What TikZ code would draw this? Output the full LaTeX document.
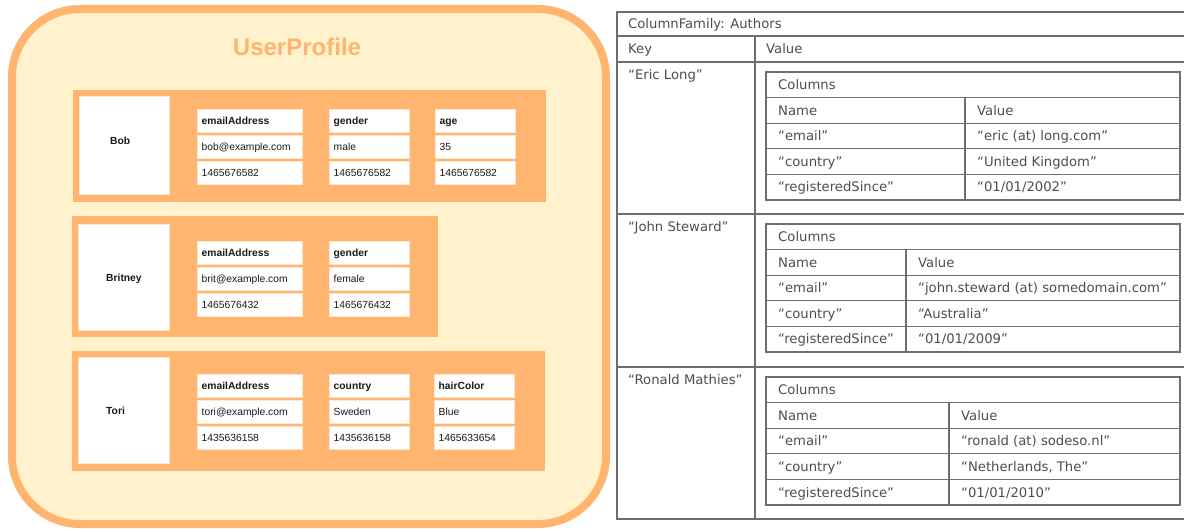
\documentclass[tikz,border=0pt]{standalone}
\usepackage{fontspec}
\setmainfont{Liberation Sans}
\newfontfamily\tblfont{DejaVu Sans}

\definecolor{profilefill}{HTML}{FFF2CC}
\definecolor{profileline}{HTML}{FFB570}
\definecolor{rowfill}{HTML}{FFB570}
\definecolor{celledge}{HTML}{FFE6CC}
\definecolor{celltext}{HTML}{1A1A1A}
\definecolor{gridline}{HTML}{6E6E6E}
\definecolor{gridtext}{HTML}{4D4D4D}

% one white cell of a column family row: box plus left-aligned text
\newcommand\pcell[7]{%
  \pgfmathsetmacro\gw{#4-#2}\pgfmathsetmacro\gh{#5-#3}%
  \pgfmathsetmacro\tx{#2+4.5}\pgfmathsetmacro\ty{(#3+#5)/2+3.7}%
  \node[cellbox, minimum width=\gw pt, minimum height=\gh pt] (#1) at ({(#2+#4)/2},{(#3+#5)/2}) {};
  \node[#6, anchor=base west] (#1-t) at (\tx,\ty) {#7};}

% a column: name cell, value cell, timestamp cell
\newcommand\pcolumn[7]{%
  \pgfmathsetmacro\ya{#4+23}\pgfmathsetmacro\yb{#4+26}\pgfmathsetmacro\yc{#4+49}%
  \pgfmathsetmacro\yd{#4+52}\pgfmathsetmacro\ye{#4+75}%
  \pcell{#1-h}{#2}{#4}{#3}{\ya}{headtext}{#5}%
  \pcell{#1-v}{#2}{\yb}{#3}{\yc}{valtext}{#6}%
  \pcell{#1-s}{#2}{\yd}{#3}{\ye}{valtext}{#7}}

% a ruled table cell (no text)
\newcommand\gridcell[5]{%
  \pgfmathsetmacro\gw{#4-#2}\pgfmathsetmacro\gh{#5-#3}%
  \node[gridbox, minimum width=\gw pt, minimum height=\gh pt] (#1) at ({(#2+#4)/2},{(#3+#5)/2}) {};}

% the nested Columns table of one row key
\newcommand\innertable[6]{%
  \pgfmathsetmacro\ra{#2+25.6}\pgfmathsetmacro\rb{#2+51.2}\pgfmathsetmacro\rc{#2+76.8}%
  \pgfmathsetmacro\rd{#2+102.4}\pgfmathsetmacro\re{#2+128}%
  \pgfmathsetmacro\vx{#3+12}%
  \gridcell{#1-cols}{766}{#2}{1180}{\ra}%
  \gridcell{#1-n1}{766}{\ra}{#3}{\rb}\gridcell{#1-v1}{#3}{\ra}{1180}{\rb}%
  \gridcell{#1-n2}{766}{\rb}{#3}{\rc}\gridcell{#1-v2}{#3}{\rb}{1180}{\rc}%
  \gridcell{#1-n3}{766}{\rc}{#3}{\rd}\gridcell{#1-v3}{#3}{\rc}{1180}{\rd}%
  \gridcell{#1-n4}{766}{\rd}{#3}{\re}\gridcell{#1-v4}{#3}{\rd}{1180}{\re}%
  \node[gridlabel] (#1-cols-t) at (778,{#2+12.8+4.8}) {Columns};
  \node[gridlabel] (#1-n1-t) at (778,{#2+38.4+4.8}) {Name};
  \node[gridlabel] (#1-v1-t) at (\vx,{#2+38.4+4.8}) {Value};
  \node[gridlabel] (#1-n2-t) at (778,{#2+64+4.8}) {“email”};
  \node[gridlabel] (#1-v2-t) at (\vx,{#2+64+4.8}) {#4};
  \node[gridlabel] (#1-n3-t) at (778,{#2+89.6+4.8}) {“country”};
  \node[gridlabel] (#1-v3-t) at (\vx,{#2+89.6+4.8}) {#5};
  \node[gridlabel] (#1-n4-t) at (778,{#2+115.2+4.8}) {“registeredSince”};
  \node[gridlabel] (#1-v4-t) at (\vx,{#2+115.2+4.8}) {#6};}

\begin{document}
\begin{tikzpicture}[x=1pt, y=-1pt,
  profile/.style={draw=profileline, fill=profilefill, line width=8pt, rounded corners=68pt},
  rowbox/.style={fill=rowfill, draw=none},
  keybox/.style={fill=white, draw=celledge, line width=0.8pt},
  cellbox/.style={rectangle, fill=white, draw=celledge, line width=0.8pt, inner sep=0pt, outer sep=0pt},
  headtext/.style={inner sep=0pt, text=celltext, font=\fontsize{10.3}{12}\selectfont\bfseries},
  valtext/.style={inner sep=0pt, text=celltext, font=\fontsize{10.3}{12}\selectfont},
  keytext/.style={inner sep=0pt, text=celltext, font=\fontsize{10.3}{12}\selectfont\bfseries, anchor=base west},
  gridbox/.style={rectangle, draw=gridline, line width=1.1pt, inner sep=0pt, outer sep=0pt},
  gridlabel/.style={inner sep=0pt, anchor=base west, text=gridtext, font=\tblfont\fontsize{13.2}{15}\selectfont},
]
\useasboundingbox (0,0) rectangle (1184,529);

% ---------------- column family drawn as nested boxes ----------------
\draw[profile] (12,9) rectangle (606,524);
\node[text=profileline, font=\fontsize{24}{28}\selectfont\bfseries] (title) at (297,47) {UserProfile};

% Bob
\node[rowbox, minimum width=473pt, minimum height=112pt, inner sep=0pt] (bobrow) at (309.5,146) {};
\node[keybox, minimum width=90pt, minimum height=98pt, inner sep=0pt] (bobkey) at (124,145) {};
\node[keytext] (bobname) at (110,144.7) {Bob};
\pcolumn{bobA}{197}{302}{109}{emailAddress}{bob@example.com}{1465676582}
\pcolumn{bobB}{329}{409}{109}{gender}{male}{1465676582}
\pcolumn{bobC}{435}{515}{109}{age}{35}{1465676582}

% Britney
\node[rowbox, minimum width=366pt, minimum height=121pt, inner sep=0pt] (britrow) at (255,276.5) {};
\node[keybox, minimum width=91pt, minimum height=106pt, inner sep=0pt] (britkey) at (123.5,277) {};
\node[keytext] (britname) at (106,281.7) {Britney};
\pcolumn{britA}{197}{302}{241}{emailAddress}{brit@example.com}{1465676432}
\pcolumn{britB}{329}{409}{241}{gender}{female}{1465676432}

% Tori
\node[rowbox, minimum width=473pt, minimum height=120pt, inner sep=0pt] (torirow) at (308.5,411) {};
\node[keybox, minimum width=91pt, minimum height=106pt, inner sep=0pt] (torikey) at (123.5,410) {};
\node[keytext] (toriname) at (106,414.7) {Tori};
\pcolumn{toriA}{197}{302}{374}{emailAddress}{tori@example.com}{1435636158}
\pcolumn{toriB}{329}{409}{374}{country}{Sweden}{1435636158}
\pcolumn{toriC}{434}{514}{374}{hairColor}{Blue}{1465633654}

% ---------------- column family drawn as a table ----------------
\gridcell{cf}{617}{12}{1190}{36}
\gridcell{keyhead}{617}{36}{755}{62}
\gridcell{valhead}{755}{36}{1190}{62}
\gridcell{k1}{617}{62}{755}{214}
\gridcell{v1}{755}{62}{1190}{214}
\gridcell{k2}{617}{214}{755}{367}
\gridcell{v2}{755}{214}{1190}{367}
\gridcell{k3}{617}{367}{755}{519}
\gridcell{v3}{755}{367}{1190}{519}

\node[gridlabel] (cf-t) at (628,28.8) {ColumnFamily: Authors};
\node[gridlabel] (keyhead-t) at (628,53.8) {Key};
\node[gridlabel] (valhead-t) at (766,53.8) {Value};
\node[gridlabel] (k1-t) at (628,79.8) {“Eric Long”};
\node[gridlabel] (k2-t) at (628,231.8) {“John Steward”};
\node[gridlabel] (k3-t) at (628,384.8) {“Ronald Mathies”};

\innertable{eric}{72}{965}{“eric (at) long.com”}{“United Kingdom”}{“01/01/2002”}
\innertable{john}{224}{906}{“john.steward (at) somedomain.com”}{“Australia”}{“01/01/2009”}
\innertable{ronald}{377}{949}{“ronald (at) sodeso.nl”}{“Netherlands, The”}{“01/01/2010”}
\end{tikzpicture}
\end{document}
